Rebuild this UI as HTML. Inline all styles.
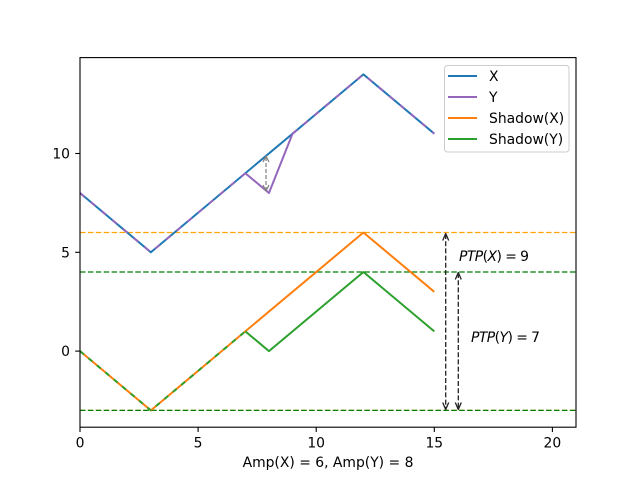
<!DOCTYPE html>
<html><head><meta charset="utf-8"><style>
html,body{margin:0;padding:0;background:#fff;}
svg{display:block;}
text{font-family:"DejaVu Sans","Liberation Sans",sans-serif;font-size:13.9px;fill:#000;}
</style></head><body>
<svg width="640" height="480" viewBox="0 0 640 480" xmlns="http://www.w3.org/2000/svg">
<rect x="0" y="0" width="640" height="480" fill="#fff"/>
<defs><clipPath id="ax"><rect x="80" y="57.6" width="496" height="369.6"/></clipPath></defs>
<g clip-path="url(#ax)" fill="none" stroke-linejoin="round">
<line x1="80" y1="232.5" x2="576" y2="232.5" stroke="#ffa500" stroke-width="1.2" stroke-dasharray="5.5,2.4"/>
<line x1="80" y1="272.0" x2="576" y2="272.0" stroke="#008000" stroke-width="1.2" stroke-dasharray="5.5,2.4"/>
<line x1="80" y1="410.4" x2="576" y2="410.4" stroke="#ffa500" stroke-width="1.2" stroke-dasharray="5.5,2.4"/>
<line x1="80" y1="410.4" x2="576" y2="410.4" stroke="#008000" stroke-width="1.2" stroke-dasharray="5.5,2.4"/>
<polyline points="80,192.98 150.86,252.28 363.43,74.39 434.29,133.68" stroke="#1f77b4" stroke-width="2"/>
<polyline points="245.33,173.22 268.95,192.98 292.57,133.68" stroke="#9467bd" stroke-width="2"/>
<polyline points="80,192.98 150.86,252.28 245.33,173.22" stroke="#9467bd" stroke-width="2" stroke-dasharray="6,8"/>
<polyline points="292.57,133.68 363.43,74.39 434.29,133.68" stroke="#9467bd" stroke-width="2" stroke-dasharray="6,8"/>
<polyline points="80,351.1 150.86,410.4 363.43,232.51 434.29,291.8" stroke="#ff7f0e" stroke-width="2"/>
<polyline points="245.33,331.34 268.95,351.1 363.43,272.04 434.29,331.34" stroke="#2ca02c" stroke-width="2"/>
<polyline points="80,351.1 150.86,410.4 245.33,331.34" stroke="#2ca02c" stroke-width="2" stroke-dasharray="5,6"/>
<line x1="266" y1="157" x2="266" y2="190" stroke="#808080" stroke-width="1.2" stroke-dasharray="4,2"/>
<polyline points="263,162 266,156 269,162" stroke="#808080" stroke-width="1.2"/>
<polyline points="263,185 266,191 269,185" stroke="#808080" stroke-width="1.2"/>
<line x1="445.7" y1="234" x2="445.7" y2="409" stroke="#222" stroke-width="1.3" stroke-dasharray="5,2.2"/>
<polyline points="442.7,240.5 445.7,233.5 448.7,240.5" stroke="#222" stroke-width="1.3"/>
<polyline points="442.7,402.5 445.7,409.5 448.7,402.5" stroke="#222" stroke-width="1.3"/>
<line x1="458.3" y1="273" x2="458.3" y2="409" stroke="#222" stroke-width="1.3" stroke-dasharray="5,2.2"/>
<polyline points="455.3,279.5 458.3,272.5 461.3,279.5" stroke="#222" stroke-width="1.3"/>
<polyline points="455.3,402.5 458.3,409.5 461.3,402.5" stroke="#222" stroke-width="1.3"/>
</g>
<text x="459" y="261" textLength="70" lengthAdjust="spacing"><tspan font-style="italic">PTP</tspan>(<tspan font-style="italic">X</tspan>) = 9</text>
<text x="471" y="342" textLength="69" lengthAdjust="spacing"><tspan font-style="italic">PTP</tspan>(<tspan font-style="italic">Y</tspan>) = 7</text>
<rect x="80" y="57.6" width="496" height="369.6" fill="none" stroke="#000" stroke-width="1.1"/>
<g stroke="#000" stroke-width="1.1">
<line x1="80" y1="427.2" x2="80" y2="432"/>
<line x1="198.1" y1="427.2" x2="198.1" y2="432"/>
<line x1="316.2" y1="427.2" x2="316.2" y2="432"/>
<line x1="434.3" y1="427.2" x2="434.3" y2="432"/>
<line x1="552.4" y1="427.2" x2="552.4" y2="432"/>
<line x1="75.2" y1="351.1" x2="80" y2="351.1"/>
<line x1="75.2" y1="252.3" x2="80" y2="252.3"/>
<line x1="75.2" y1="153.5" x2="80" y2="153.5"/>
</g>
<g text-anchor="middle">
<text x="80" y="447.5">0</text>
<text x="198.1" y="447.5">5</text>
<text x="316.2" y="447.5">10</text>
<text x="434.3" y="447.5">15</text>
<text x="552.4" y="447.5">20</text>
<text x="328" y="467">Amp(X) = 6, Amp(Y) = 8</text>
</g>
<g text-anchor="end">
<text x="70" y="356.2">0</text>
<text x="70" y="257.4">5</text>
<text x="70" y="158.6">10</text>
</g>
<rect x="444.5" y="65.5" width="124.5" height="86.5" rx="3" ry="3" fill="#fff" fill-opacity="0.8" stroke="#cccccc" stroke-width="1"/>
<g stroke-width="2">
<line x1="448" y1="76" x2="477" y2="76" stroke="#1f77b4"/>
<line x1="448" y1="97" x2="477" y2="97" stroke="#9467bd"/>
<line x1="448" y1="118" x2="477" y2="118" stroke="#ff7f0e"/>
<line x1="448" y1="139" x2="477" y2="139" stroke="#2ca02c"/>
</g>
<text x="489" y="81">X</text>
<text x="489" y="102">Y</text>
<text x="489" y="123">Shadow(X)</text>
<text x="489" y="144">Shadow(Y)</text>
</svg>
</body></html>
